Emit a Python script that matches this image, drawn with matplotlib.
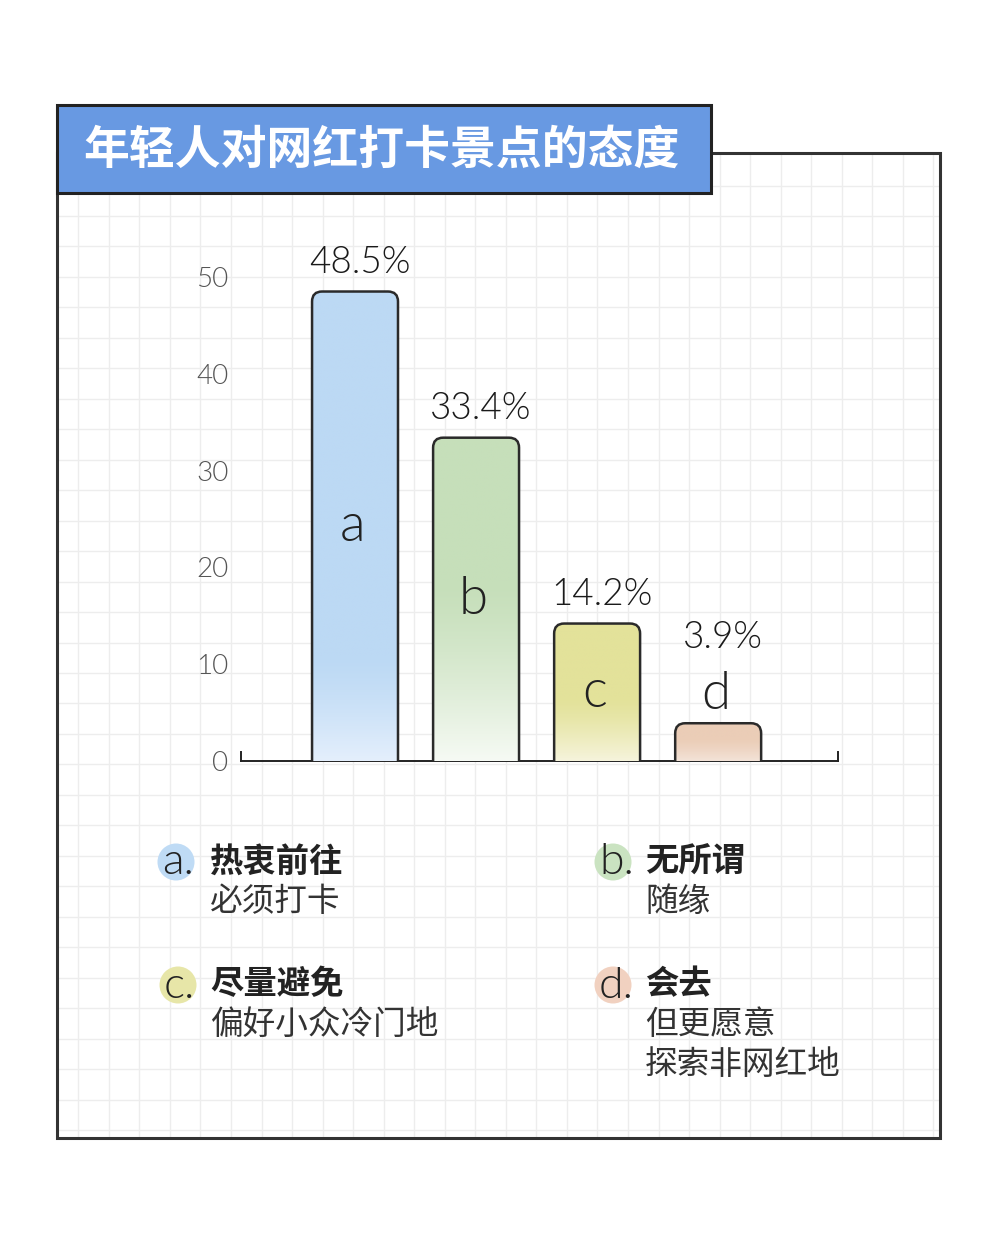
import numpy as np
import matplotlib
matplotlib.use("Agg")
import matplotlib.pyplot as plt
from matplotlib.patches import FancyBboxPatch, Rectangle, Circle
from matplotlib.colors import to_rgb

# ---------------- data ----------------
title = "年轻人对网红打卡景点的态度"
letters = ["a", "b", "c", "d"]
values = [48.5, 33.4, 14.2, 3.9]
value_labels = ["48.5%", "33.4%", "14.2%", "3.9%"]
y_ticks = [0, 10, 20, 30, 40, 50]
legend_titles = ["热衷前往", "无所谓", "尽量避免", "会去"]
legend_subs = [["必须打卡"], ["随缘"], ["偏好小众冷门地"], ["但更愿意", "探索非网红地"]]

top_colors = ["#BCD9F4", "#C6DFBA", "#E3E29A", "#EBCDB7"]
bottom_colors = ["#E4EFFC", "#F6FAF4", "#F6F4DC", "#F3E3D8"]
fade_starts = [0.22, 0.55, 0.45, 0.6]
circle_colors = ["#BFDBF5", "#CAE3C1", "#E7E6A8", "#F1D1C0"]

LAT = ["Lato", "DejaVu Sans"]
CJK = ["Noto Sans CJK SC", "DejaVu Sans"]

W, H = 1000, 1241
fig = plt.figure(figsize=(W / 100, H / 100), dpi=100)
fig.patch.set_facecolor("white")

# ---------------- background / decoration axes (pixel coords) ----------------
bg = fig.add_axes([0, 0, 1, 1])
bg.set_xlim(0, W)
bg.set_ylim(H, 0)
bg.axis("off")

px0, px1, py0, py1 = 57, 940, 153, 1138
# grid
gx = 78.3
while gx < px1 - 2:
    bg.plot([gx, gx], [py0, py1], color="#EDEDED", lw=1.0, zorder=1)
    gx += 30.54
gy = 185.5
while gy < py1 - 2:
    bg.plot([px0, px1], [gy, gy], color="#EDEDED", lw=1.0, zorder=1)
    gy += 30.47
# panel border
bg.add_patch(Rectangle((px0, py0), px1 - px0, py1 - py0, fill=False,
                       edgecolor="#333333", lw=2.2, zorder=3))
# title box
bg.add_patch(Rectangle((57, 105), 711 - 57, 193 - 105, facecolor="#6899E2",
                       edgecolor="#222222", lw=2.2, zorder=5))
bg.text(381, 151, title, color="white", fontsize=33, fontweight="bold",
        family=CJK, ha="center", va="center", zorder=6)

# legend
leg_pos = [(176, 862), (613, 862), (178, 985), (613, 985)]
for i, (cx, cy) in enumerate(leg_pos):
    bg.add_patch(Circle((cx, cy), 18.5, facecolor=circle_colors[i],
                        edgecolor="none", zorder=4))
    bg.text(cx - 14, cy + 1, letters[i] + ".", fontsize=32, family=LAT,
            fontweight=300, color="#222222", ha="left", va="center", zorder=5)
    tx = 210 if i % 2 == 0 else 645
    bg.text(tx, cy, legend_titles[i], fontsize=24, fontweight="bold",
            family=CJK, color="#222222", ha="left", va="center", zorder=5)
    for j, s in enumerate(legend_subs[i]):
        bg.text(tx, cy + 40 * (j + 1), s, fontsize=23.5, family=CJK,
                color="#333333", ha="left", va="center", zorder=5)

# ---------------- chart axes ----------------
ax_l, ax_r, ax_b, ax_t = 241, 838, 761, 277
ax = fig.add_axes([ax_l / W, 1 - ax_b / H, (ax_r - ax_l) / W, (ax_b - ax_t) / H])
ax.patch.set_alpha(0)
x = np.arange(len(values))
xlim = (-0.942, 3.99)
ylim = (0, 50)

bar_w = 0.71
xu_per_px = (xlim[1] - xlim[0]) / (ax_r - ax_l)
yu_per_px = (ylim[1] - ylim[0]) / (ax_b - ax_t)
aspect = yu_per_px / xu_per_px
r_x = 10 * xu_per_px
r_y = r_x * aspect

for i, v in enumerate(values):
    x0 = x[i] - bar_w / 2
    patch = FancyBboxPatch((x0, -r_y), bar_w, v + r_y,
                           boxstyle=f"round,pad=0,rounding_size={r_x}",
                           mutation_aspect=aspect, facecolor="none",
                           edgecolor="#2a2a2a", lw=1.8, zorder=4)
    ax.add_patch(patch)
    # gradient fill
    n = 200
    t = np.linspace(0, 1, n)  # 0 = top, 1 = bottom
    top = np.array(to_rgb(top_colors[i]))
    bot = np.array(to_rgb(bottom_colors[i]))
    fs = fade_starts[i]
    frac = np.clip((t - (1 - fs)) / fs, 0, 1) ** 1.3
    grad = top[None, :] * (1 - frac[:, None]) + bot[None, :] * frac[:, None]
    img = ax.imshow(grad[:, None, :], extent=(x0, x0 + bar_w, 0, v),
                    aspect="auto", zorder=3, interpolation="bilinear")
    clip = FancyBboxPatch((x0, -r_y), bar_w, v + r_y,
                          boxstyle=f"round,pad=0,rounding_size={r_x}",
                          mutation_aspect=aspect, transform=ax.transData,
                          facecolor="none", edgecolor="none")
    img.set_clip_path(clip)
    inside = v > 10
    # value label
    ax.text(x[i] + 0.04, v + (1.2 if inside else 7.0), value_labels[i],
            ha="center", va="bottom", fontsize=26.5, family=LAT, fontweight=300,
            color="#1a1a1a", zorder=6)
    # letter
    ly = v / 2 if inside else v + 3.0
    ax.text(x[i] - 0.02, ly, letters[i], ha="center", va="center",
            fontsize=38, family=LAT, fontweight=300, color="#222222", zorder=6)

ax.set_xlim(*xlim)
ax.set_ylim(*ylim)
ax.set_yticks(y_ticks)
ax.set_yticklabels([str(t) for t in y_ticks], fontsize=20, family=LAT,
                   color="#555555", fontweight=300)
ax.tick_params(axis="y", length=0, pad=9)
ax.set_xticks([])
for s in ["top", "right", "left"]:
    ax.spines[s].set_visible(False)
ax.spines["bottom"].set_color("#222222")
ax.spines["bottom"].set_linewidth(1.4)
# small end ticks
tick_h = 9 * yu_per_px
ax.plot([xlim[0], xlim[0]], [0, tick_h], color="#222222", lw=1.4, clip_on=False)
ax.plot([xlim[1], xlim[1]], [0, tick_h], color="#222222", lw=1.4, clip_on=False)

fig.savefig("out.png", dpi=100, facecolor="white")
